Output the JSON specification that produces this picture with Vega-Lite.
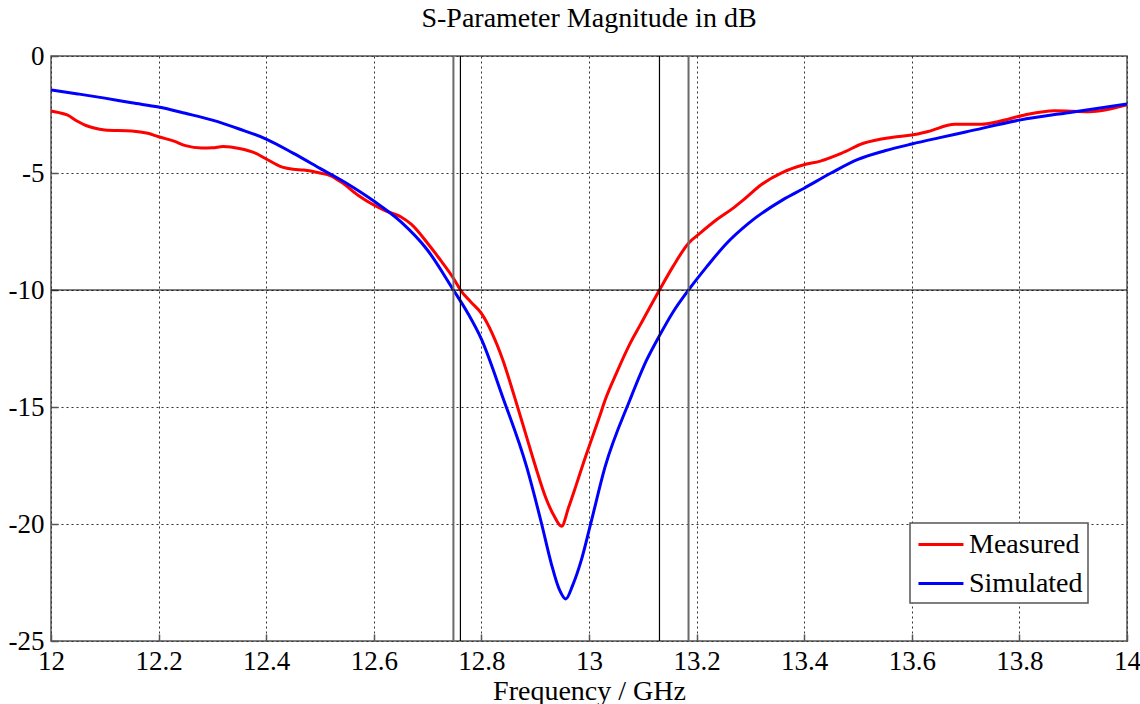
{
  "$schema": "https://vega.github.io/schema/vega-lite/v6.json",
  "width": 1076,
  "height": 585,
  "autosize": {"type": "none"},
  "padding": {"left": 51, "top": 56, "right": 13, "bottom": 63},
  "background": "white",
  "title": {"text": "S-Parameter Magnitude in dB", "font": "Liberation Serif, DejaVu Serif, serif", "fontSize": 28, "fontWeight": "normal", "color": "#000", "anchor": "middle", "frame": "group", "baseline": "alphabetic", "offset": 16, "dy": 29},
  "config": {
    "view": {"stroke": "#555", "strokeWidth": 1.5},
    "axis": {
      "grid": true, "gridDash": [2, 3], "gridColor": "#333", "gridWidth": 1, "gridOpacity": 1,
      "domain": false, "ticks": true, "tickSize": -7, "tickColor": "#555", "tickWidth": 1.5,
      "labelPadding": 14, "labelFont": "Liberation Serif, DejaVu Serif, serif", "labelFontSize": 27, "labelColor": "#000",
      "labelFlush": false, "labelOverlap": false,
      "titleFont": "Liberation Serif, DejaVu Serif, serif", "titleFontSize": 28, "titleFontWeight": "normal", "titleColor": "#000"
    },
    "legend": {
      "orient": "none", "legendX": 859, "legendY": 467, "strokeColor": "#555", "strokeWidth": 1.5, "fillColor": "white",
      "padding": 5, "symbolType": "M-0.87,0H2.13", "symbolSize": 900, "symbolStrokeWidth": 3,
      "labelFont": "Liberation Serif, DejaVu Serif, serif", "labelFontSize": 28, "labelColor": "#000", "labelOffset": 21,
      "rowPadding": 8, "labelLimit": 400
    }
  },
  "datasets": {
    "curves": [
      {"freq": 12.0, "dB": -2.35, "series": "Measured"},
      {"freq": 12.015, "dB": -2.42, "series": "Measured"},
      {"freq": 12.03, "dB": -2.52, "series": "Measured"},
      {"freq": 12.05, "dB": -2.8, "series": "Measured"},
      {"freq": 12.065, "dB": -2.97, "series": "Measured"},
      {"freq": 12.08, "dB": -3.08, "series": "Measured"},
      {"freq": 12.1, "dB": -3.16, "series": "Measured"},
      {"freq": 12.15, "dB": -3.2, "series": "Measured"},
      {"freq": 12.18, "dB": -3.3, "series": "Measured"},
      {"freq": 12.2, "dB": -3.45, "series": "Measured"},
      {"freq": 12.23, "dB": -3.65, "series": "Measured"},
      {"freq": 12.25, "dB": -3.83, "series": "Measured"},
      {"freq": 12.28, "dB": -3.93, "series": "Measured"},
      {"freq": 12.3, "dB": -3.92, "series": "Measured"},
      {"freq": 12.32, "dB": -3.87, "series": "Measured"},
      {"freq": 12.35, "dB": -3.95, "series": "Measured"},
      {"freq": 12.38, "dB": -4.15, "series": "Measured"},
      {"freq": 12.4, "dB": -4.4, "series": "Measured"},
      {"freq": 12.43, "dB": -4.75, "series": "Measured"},
      {"freq": 12.45, "dB": -4.84, "series": "Measured"},
      {"freq": 12.47, "dB": -4.87, "series": "Measured"},
      {"freq": 12.5, "dB": -5.0, "series": "Measured"},
      {"freq": 12.52, "dB": -5.12, "series": "Measured"},
      {"freq": 12.54, "dB": -5.4, "series": "Measured"},
      {"freq": 12.57, "dB": -5.94, "series": "Measured"},
      {"freq": 12.6, "dB": -6.37, "series": "Measured"},
      {"freq": 12.62, "dB": -6.6, "series": "Measured"},
      {"freq": 12.65, "dB": -6.87, "series": "Measured"},
      {"freq": 12.67, "dB": -7.2, "series": "Measured"},
      {"freq": 12.7, "dB": -8.0, "series": "Measured"},
      {"freq": 12.72, "dB": -8.6, "series": "Measured"},
      {"freq": 12.75, "dB": -9.57, "series": "Measured"},
      {"freq": 12.761, "dB": -10.0, "series": "Measured"},
      {"freq": 12.78, "dB": -10.5, "series": "Measured"},
      {"freq": 12.8, "dB": -11.0, "series": "Measured"},
      {"freq": 12.82, "dB": -11.85, "series": "Measured"},
      {"freq": 12.84, "dB": -13.0, "series": "Measured"},
      {"freq": 12.862, "dB": -14.6, "series": "Measured"},
      {"freq": 12.883, "dB": -16.2, "series": "Measured"},
      {"freq": 12.9, "dB": -17.5, "series": "Measured"},
      {"freq": 12.92, "dB": -18.9, "series": "Measured"},
      {"freq": 12.935, "dB": -19.65, "series": "Measured"},
      {"freq": 12.949, "dB": -20.1, "series": "Measured"},
      {"freq": 12.962, "dB": -19.3, "series": "Measured"},
      {"freq": 12.976, "dB": -18.35, "series": "Measured"},
      {"freq": 12.991, "dB": -17.3, "series": "Measured"},
      {"freq": 13.0, "dB": -16.7, "series": "Measured"},
      {"freq": 13.019, "dB": -15.45, "series": "Measured"},
      {"freq": 13.03, "dB": -14.7, "series": "Measured"},
      {"freq": 13.051, "dB": -13.55, "series": "Measured"},
      {"freq": 13.076, "dB": -12.3, "series": "Measured"},
      {"freq": 13.095, "dB": -11.5, "series": "Measured"},
      {"freq": 13.131, "dB": -10.0, "series": "Measured"},
      {"freq": 13.156, "dB": -9.0, "series": "Measured"},
      {"freq": 13.185, "dB": -8.0, "series": "Measured"},
      {"freq": 13.206, "dB": -7.58, "series": "Measured"},
      {"freq": 13.237, "dB": -7.0, "series": "Measured"},
      {"freq": 13.268, "dB": -6.5, "series": "Measured"},
      {"freq": 13.287, "dB": -6.15, "series": "Measured"},
      {"freq": 13.32, "dB": -5.5, "series": "Measured"},
      {"freq": 13.36, "dB": -4.97, "series": "Measured"},
      {"freq": 13.398, "dB": -4.66, "series": "Measured"},
      {"freq": 13.43, "dB": -4.49, "series": "Measured"},
      {"freq": 13.47, "dB": -4.15, "series": "Measured"},
      {"freq": 13.51, "dB": -3.73, "series": "Measured"},
      {"freq": 13.565, "dB": -3.47, "series": "Measured"},
      {"freq": 13.6, "dB": -3.38, "series": "Measured"},
      {"freq": 13.63, "dB": -3.23, "series": "Measured"},
      {"freq": 13.68, "dB": -2.92, "series": "Measured"},
      {"freq": 13.73, "dB": -2.92, "series": "Measured"},
      {"freq": 13.76, "dB": -2.81, "series": "Measured"},
      {"freq": 13.81, "dB": -2.52, "series": "Measured"},
      {"freq": 13.865, "dB": -2.34, "series": "Measured"},
      {"freq": 13.93, "dB": -2.38, "series": "Measured"},
      {"freq": 14.0, "dB": -2.09, "series": "Measured"},
      {"freq": 12.0, "dB": -1.45, "series": "Simulated"},
      {"freq": 12.05, "dB": -1.62, "series": "Simulated"},
      {"freq": 12.1, "dB": -1.8, "series": "Simulated"},
      {"freq": 12.15, "dB": -2.0, "series": "Simulated"},
      {"freq": 12.2, "dB": -2.18, "series": "Simulated"},
      {"freq": 12.25, "dB": -2.45, "series": "Simulated"},
      {"freq": 12.3, "dB": -2.74, "series": "Simulated"},
      {"freq": 12.35, "dB": -3.12, "series": "Simulated"},
      {"freq": 12.4, "dB": -3.55, "series": "Simulated"},
      {"freq": 12.45, "dB": -4.15, "series": "Simulated"},
      {"freq": 12.5, "dB": -4.8, "series": "Simulated"},
      {"freq": 12.55, "dB": -5.45, "series": "Simulated"},
      {"freq": 12.6, "dB": -6.2, "series": "Simulated"},
      {"freq": 12.65, "dB": -7.08, "series": "Simulated"},
      {"freq": 12.7, "dB": -8.3, "series": "Simulated"},
      {"freq": 12.748, "dB": -10.0, "series": "Simulated"},
      {"freq": 12.775, "dB": -11.0, "series": "Simulated"},
      {"freq": 12.8, "dB": -12.1, "series": "Simulated"},
      {"freq": 12.84, "dB": -14.6, "series": "Simulated"},
      {"freq": 12.884, "dB": -17.55, "series": "Simulated"},
      {"freq": 12.912, "dB": -20.0, "series": "Simulated"},
      {"freq": 12.93, "dB": -21.7, "series": "Simulated"},
      {"freq": 12.944, "dB": -22.75, "series": "Simulated"},
      {"freq": 12.957, "dB": -23.2, "series": "Simulated"},
      {"freq": 12.97, "dB": -22.6, "series": "Simulated"},
      {"freq": 12.985, "dB": -21.6, "series": "Simulated"},
      {"freq": 13.003, "dB": -20.0, "series": "Simulated"},
      {"freq": 13.03, "dB": -17.55, "series": "Simulated"},
      {"freq": 13.076, "dB": -14.7, "series": "Simulated"},
      {"freq": 13.107, "dB": -13.0, "series": "Simulated"},
      {"freq": 13.131, "dB": -11.95, "series": "Simulated"},
      {"freq": 13.156, "dB": -10.95, "series": "Simulated"},
      {"freq": 13.185, "dB": -10.0, "series": "Simulated"},
      {"freq": 13.219, "dB": -9.0, "series": "Simulated"},
      {"freq": 13.256, "dB": -8.0, "series": "Simulated"},
      {"freq": 13.297, "dB": -7.14, "series": "Simulated"},
      {"freq": 13.36, "dB": -6.15, "series": "Simulated"},
      {"freq": 13.4, "dB": -5.65, "series": "Simulated"},
      {"freq": 13.45, "dB": -5.0, "series": "Simulated"},
      {"freq": 13.5, "dB": -4.42, "series": "Simulated"},
      {"freq": 13.55, "dB": -4.05, "series": "Simulated"},
      {"freq": 13.6, "dB": -3.76, "series": "Simulated"},
      {"freq": 13.65, "dB": -3.5, "series": "Simulated"},
      {"freq": 13.7, "dB": -3.25, "series": "Simulated"},
      {"freq": 13.8, "dB": -2.74, "series": "Simulated"},
      {"freq": 13.9, "dB": -2.39, "series": "Simulated"},
      {"freq": 14.0, "dB": -2.05, "series": "Simulated"}
    ],
    "markers": [
      {"freq": 12.748, "series": "Simulated"},
      {"freq": 12.761, "series": "Measured"},
      {"freq": 13.131, "series": "Measured"},
      {"freq": 13.185, "series": "Simulated"}
    ]
  },
  "layer": [
    {
      "data": {"name": "curves"},
      "mark": {"type": "line", "strokeWidth": 3, "interpolate": "monotone", "strokeJoin": "round"},
      "encoding": {
        "x": {"field": "freq", "type": "quantitative", "scale": {"domain": [12, 14], "nice": false, "zero": false},
          "axis": {"title": "Frequency / GHz", "values": [12, 12.2, 12.4, 12.6, 12.8, 13, 13.2, 13.4, 13.6, 13.8, 14], "labelExpr": "'' + datum.value", "titleY": 58, "titleBaseline": "alphabetic"}},
        "y": {"field": "dB", "type": "quantitative", "scale": {"domain": [-25, 0], "nice": false, "zero": false},
          "axis": {"title": null, "values": [-25, -20, -15, -10, -5, 0], "labelExpr": "'' + datum.value"}},
        "color": {"field": "series", "type": "nominal", "scale": {"domain": ["Measured", "Simulated"], "range": ["#ff0000", "#0000ff"]}, "legend": {"title": null}}
      }
    },
    {
      "data": {"name": "markers"},
      "transform": [{"filter": "datum.series === 'Simulated'"}],
      "mark": {"type": "rule", "color": "#6a6a6a", "strokeWidth": 2},
      "encoding": {"x": {"field": "freq", "type": "quantitative"}}
    },
    {
      "data": {"name": "markers"},
      "transform": [{"filter": "datum.series === 'Measured'"}],
      "mark": {"type": "rule", "color": "#000", "strokeWidth": 1.2},
      "encoding": {"x": {"field": "freq", "type": "quantitative"}}
    },
    {
      "data": {"values": [{"level": -10}]},
      "mark": {"type": "rule", "color": "#000", "strokeWidth": 1.2},
      "encoding": {"y": {"field": "level", "type": "quantitative"}}
    }
  ]
}
